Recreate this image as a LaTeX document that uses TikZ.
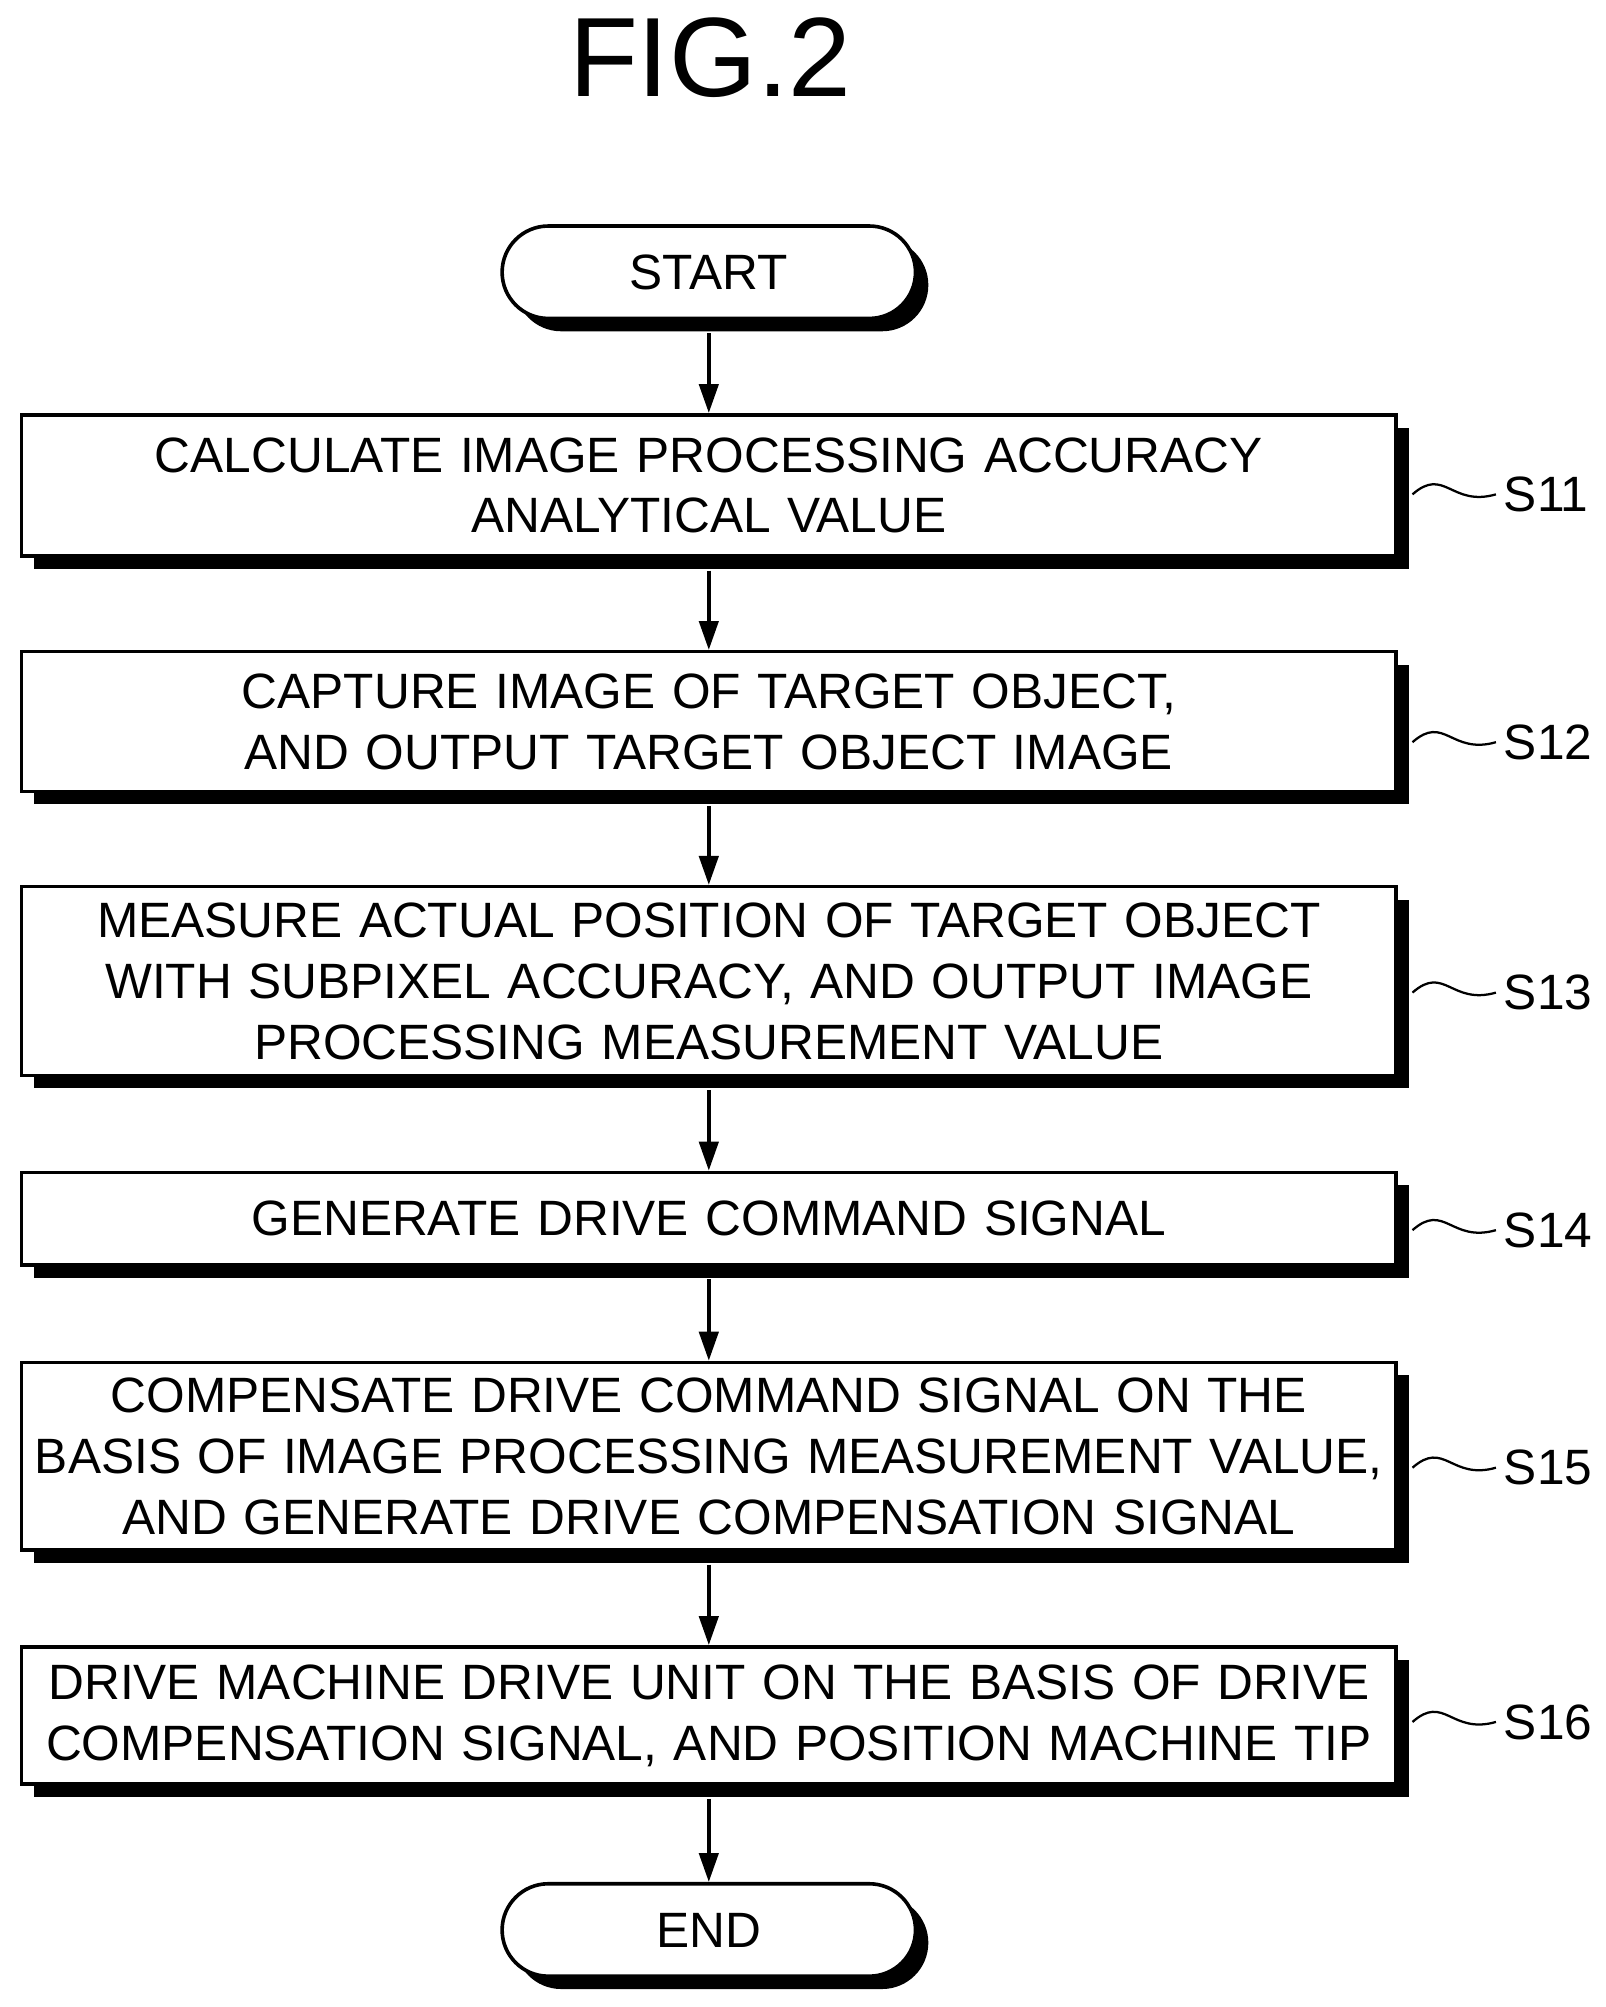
\documentclass[tikz,border=0pt]{standalone}
\usepackage{fontspec}
\setmainfont{Liberation Sans}
\usetikzlibrary{shadows,arrows.meta}
\begin{document}
\begin{tikzpicture}[x=0.02cm,y=-0.02cm,
  sh/.style={drop shadow={shadow xshift=0.2cm,shadow yshift=-0.2cm,fill=black,opacity=1}},
  box/.style={draw,line width=1.6pt,fill=white,sh,minimum width=21.42cm,text width=21.2cm,align=center,font=\fontsize{22}{27}\selectfont,inner sep=0pt},
  term/.style={draw,line width=1.6pt,fill=white,sh,rounded corners=0.72cm,minimum width=6.44cm,minimum height=1.44cm,font=\fontsize{22}{27}\selectfont},
  lab/.style={font=\fontsize{22}{27}\selectfont,anchor=west},
  arr/.style={line width=1.6pt,-{Triangle[length=0.45cm,width=0.3cm]}},
  sq/.style={line width=1pt}]
\useasboundingbox (0,0) rectangle (1250,1563);
\node[font=\fontsize{50}{60}\selectfont] (title) at (553,45) {FIG.2};
\node[term] (start) at (552,212) {START};
\node[box,minimum height=2.2cm] (b1) at (552,378) {CALCULATE IMAGE PROCESSING ACCURACY\\ANALYTICAL VALUE};
\node[box,minimum height=2.18cm] (b2) at (552,562) {CAPTURE IMAGE OF TARGET OBJECT,\\AND OUTPUT TARGET OBJECT IMAGE};
\node[box,minimum height=2.94cm] (b3) at (552,764) {MEASURE ACTUAL POSITION OF TARGET OBJECT\\WITH SUBPIXEL ACCURACY, AND OUTPUT IMAGE\\PROCESSING MEASUREMENT VALUE};
\node[box,minimum height=1.44cm] (b4) at (552,949) {GENERATE DRIVE COMMAND SIGNAL};
\node[box,minimum height=2.92cm] (b5) at (552,1134) {COMPENSATE DRIVE COMMAND SIGNAL ON THE\\BASIS OF IMAGE PROCESSING MEASUREMENT VALUE,\\AND GENERATE DRIVE COMPENSATION SIGNAL};
\node[box,minimum height=2.14cm] (b6) at (552,1336) {DRIVE MACHINE DRIVE UNIT ON THE BASIS OF DRIVE\\COMPENSATION SIGNAL, AND POSITION MACHINE TIP};
\node[term] (end) at (552,1503) {END};
\draw[arr] (start.south)++(0,10) -- (b1.north);
\draw[arr] (b1.south)++(0,10) -- (b2.north);
\draw[arr] (b2.south)++(0,10) -- (b3.north);
\draw[arr] (b3.south)++(0,10) -- (b4.north);
\draw[arr] (b4.south)++(0,10) -- (b5.north);
\draw[arr] (b5.south)++(0,10) -- (b6.north);
\draw[arr] (b6.south)++(0,10) -- (end.north);
\foreach \n/\y/\t in {s11/385/S11,s12/578/S12,s13/773/S13,s14/958/S14,s15/1143/S15,s16/1341/S16}{
  \node[lab] (\n) at (1165,\y) {\t};
  \draw[sq] (1100,\y) .. controls (1125,\y-22) and (1130,\y+10) .. (\n.west);
}
\end{tikzpicture}
\end{document}
